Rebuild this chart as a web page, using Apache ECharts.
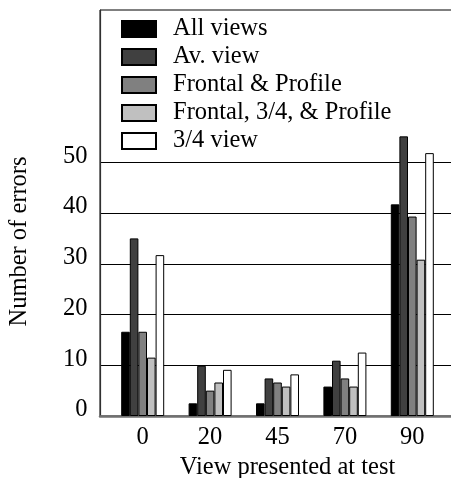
<!DOCTYPE html>
<html>
<head>
<meta charset="utf-8">
<script src="https://cdn.jsdelivr.net/npm/echarts@6/dist/echarts.min.js"></script>
<style>
  html, body { margin: 0; padding: 0; background: #fff; }
  #chart { width: 451px; height: 478px; }
</style>
</head>
<body>
<div id="chart"></div>
<script>
// ---- data ----
var categories = ['0', '20', '45', '70', '90'];
var seriesNames = ['All views', 'Av. view', 'Frontal & Profile', 'Frontal, 3/4, & Profile', '3/4 view'];
var allViews      = [16.6, 2.5, 2.5, 5.8, 41.7];
var avView        = [35.0, 9.9, 7.4, 10.9, 55.1];
var frontalProfile = [16.6, 5.0, 6.6, 7.4, 39.3];
var frontal34Profile = [11.5, 6.6, 5.8, 5.8, 30.8];
var threeQuarterView = [31.7, 9.1, 8.2, 12.5, 51.8];
var yTicks = [0, 10, 20, 30, 40, 50];

var colors = ['#000000', '#404040', '#808080', '#c0c0c0', '#ffffff'];
var seriesData = [allViews, avView, frontalProfile, frontal34Profile, threeQuarterView];
var FONT = '"Liberation Serif", "Times New Roman", serif';
var FS = 24.5;

var chart = echarts.init(document.getElementById('chart'), null, { renderer: 'canvas' });

var series = seriesNames.map(function (name, i) {
  return {
    name: name,
    type: 'bar',
    xAxisIndex: 0,
    yAxisIndex: 0,
    data: seriesData[i],
    barWidth: 8.6,
    barGap: '0%',
    itemStyle: { color: colors[i], borderColor: '#000', borderWidth: 1 },
    animation: false
  };
});

var option = {
  animation: false,
  backgroundColor: '#fff',
  grid: [
    // bars
    { left: 109, width: 337, top: 10, height: 406, show: false, outerBoundsMode: 'none', containLabel: false },
    // gridlines 0..50
    { left: 100, right: -20, top: 162.25, height: 253.75, show: false, outerBoundsMode: 'none', containLabel: false },
    // frame
    { left: 100, right: -20, top: 10, height: 406, show: true, borderColor: '#000', borderWidth: 1, backgroundColor: 'transparent', outerBoundsMode: 'none', containLabel: false },
    // y tick labels (sit slightly above their lines, as in the reference)
    { left: 100, right: -20, top: 156.25, height: 253.75, show: false, outerBoundsMode: 'none', containLabel: false }
  ],
  xAxis: [
    {
      type: 'category', gridIndex: 0, data: categories,
      axisLine: { show: false }, axisTick: { show: false },
      axisLabel: { margin: 9, color: '#000', fontFamily: FONT, fontSize: FS },
      name: 'View presented at test', nameLocation: 'middle', nameGap: 34,
      nameTextStyle: { color: '#000', fontFamily: FONT, fontSize: FS, padding: [0, 0, 0, 20] }
    },
    { type: 'value', gridIndex: 1, min: 0, max: 1, show: false },
    {
      type: 'value', gridIndex: 2, min: 0, max: 1,
      axisLine: { show: true, lineStyle: { color: '#707070', width: 2.5 } },
      axisTick: { show: false }, axisLabel: { show: false }, splitLine: { show: false }
    },
    { type: 'value', gridIndex: 3, min: 0, max: 1, show: false }
  ],
  yAxis: [
    { type: 'value', gridIndex: 0, min: 0, max: 80, interval: 10, show: false },
    {
      type: 'value', gridIndex: 1, min: 0, max: 50, interval: 10,
      axisLine: { show: false }, axisTick: { show: false }, axisLabel: { show: false },
      splitLine: { show: true, lineStyle: { color: '#000', width: 1 } }
    },
    {
      type: 'value', gridIndex: 2, min: 0, max: 1,
      axisLine: { show: true, onZero: false, lineStyle: { color: '#303030', width: 1.2 } },
      axisTick: { show: false }, axisLabel: { show: false }, splitLine: { show: false }
    },
    {
      type: 'value', gridIndex: 3, min: 0, max: 50, interval: 10,
      data: yTicks,
      axisLine: { show: false }, axisTick: { show: false }, splitLine: { show: false },
      axisLabel: { margin: 12.5, color: '#000', fontFamily: FONT, fontSize: FS }
    }
  ],
  legend: {
    orient: 'vertical',
    left: 116,
    top: 11.5,
    itemWidth: 34,
    itemHeight: 16,
    itemGap: 3,
    icon: 'rect',
    data: seriesNames,
    textStyle: { color: '#000', fontFamily: FONT, fontSize: FS, lineHeight: 24, padding: [0, 0, 0, 12] }
  },
  graphic: [
    {
      type: 'text',
      x: 20, y: 241.5,
      rotation: Math.PI / 2,
      style: {
        text: 'Number of errors',
        fill: '#000',
        font: FS + 'px ' + FONT,
        align: 'center',
        verticalAlign: 'middle'
      }
    }
  ],
  series: series
};

chart.setOption(option);
</script>
</body>
</html>
